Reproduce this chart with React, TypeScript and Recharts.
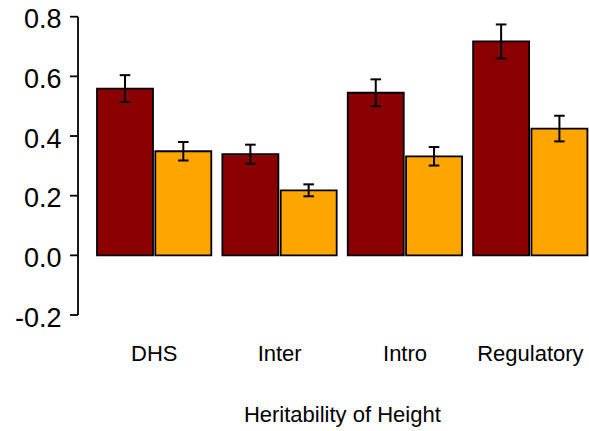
import { BarChart, Bar, XAxis, YAxis, ErrorBar } from 'recharts';

const categories = ['DHS', 'Inter', 'Intro', 'Regulatory'];
const heritA = [0.559, 0.339, 0.545, 0.717];
const errA = [0.045, 0.032, 0.045, 0.057];
const heritB = [0.349, 0.218, 0.332, 0.425];
const errB = [0.031, 0.02, 0.031, 0.043];
const yTicks = [-0.2, 0, 0.2, 0.4, 0.6, 0.8];

const data = categories.map((category, i) => ({
  category,
  a: heritA[i],
  aErr: errA[i],
  b: heritB[i],
  bErr: errB[i],
}));

export default function App() {
  return (
    <div
      style={{
        position: 'absolute',
        left: 0,
        top: 0,
        width: 589,
        height: 431,
        overflow: 'hidden',
        background: '#fff',
        fontFamily: '"Liberation Sans", Arial, sans-serif',
      }}
    >
      <BarChart
        width={607}
        height={431}
        data={data}
        margin={{ top: 16.7, right: 0.3, left: 0, bottom: 0 }}
        barCategoryGap={5.4}
        barGap={2.3}
      >
        <XAxis
          dataKey="category"
          axisLine={false}
          tickLine={false}
          tickSize={0}
          tickMargin={30}
          height={116}
          interval={0}
          padding={{ left: 13.6, right: 13.6 }}
          tick={{ fontSize: 22, fill: '#000' }}
          label={{
            value: 'Heritability of Height',
            position: 'insideBottom',
            offset: 9.3,
            fontSize: 22,
            fill: '#000',
          }}
        />
        <YAxis
          width={78}
          domain={[-0.2, 0.8]}
          ticks={yTicks}
          interval={0}
          tickSize={8}
          tickMargin={8.5}
          tickFormatter={(v: number) => v.toFixed(1)}
          axisLine={{ stroke: '#000', strokeWidth: 1.8 }}
          tickLine={{ stroke: '#000', strokeWidth: 1.8 }}
          tick={{ fontSize: 27, fill: '#000', dy: 2 }}
        />
        <Bar dataKey="a" fill="#8B0000" stroke="#000" strokeWidth={1.8} isAnimationActive={false}>
          <ErrorBar dataKey="aErr" direction="y" width={5.3} stroke="#000" strokeWidth={2} isAnimationActive={false} />
        </Bar>
        <Bar dataKey="b" fill="#FFA500" stroke="#000" strokeWidth={1.8} isAnimationActive={false}>
          <ErrorBar dataKey="bErr" direction="y" width={5.3} stroke="#000" strokeWidth={2} isAnimationActive={false} />
        </Bar>
      </BarChart>
    </div>
  );
}
